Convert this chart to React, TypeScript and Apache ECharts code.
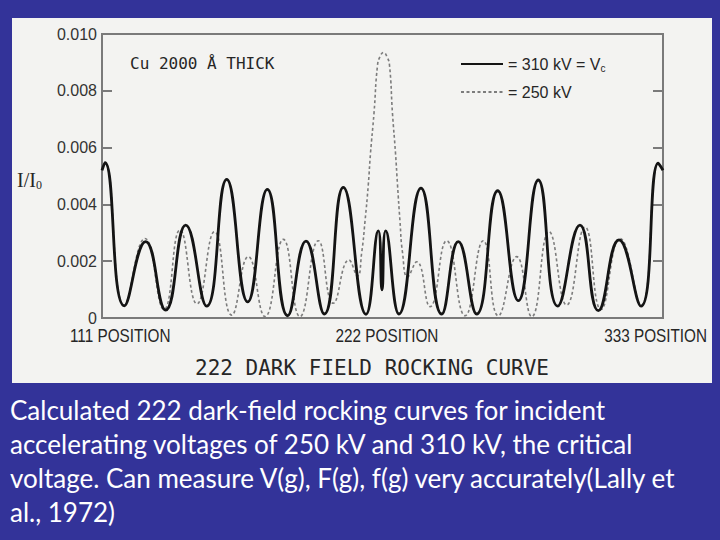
import React, { useEffect, useRef } from "react";
import * as echarts from "echarts";

// x: rocking position, 0 = 111 position, 50 = 222 position, 100 = 333 position
const solidX = [0, 0.53, 3.98, 7.79, 11.35, 14.92, 18.66, 22.23, 25.97, 29.47, 33.1, 36.36, 39.63, 43.01, 47.06, 49.25, 49.91, 50.57, 52.94, 56.86, 60.55, 63.51, 66.79, 70.53, 74.21, 77.77, 81.23, 85.2, 88.47, 92.16, 96.08, 99.16, 100];
const solidY = [0.0052, 0.00547, 0.00043, 0.00269, 0.00028, 0.00327, 0.00042, 0.00488, 0.00057, 0.00453, 0.00008, 0.00271, 0.00014, 0.0046, 0.00013, 0.00307, 0.00099, 0.00307, 0.00014, 0.00457, 0.00014, 0.00269, 0.00014, 0.00448, 0.00061, 0.00486, 0.00042, 0.00327, 0.00026, 0.00275, 0.00042, 0.00545, 0.0052];

const dashedX = [0, 0.53, 3.98, 7.66, 11.05, 13.9, 16.93, 20.05, 23.12, 26.08, 29.06, 32.32, 35.29, 38.56, 41.23, 44.03, 45.54, 46.29, 46.88, 47.47, 47.86, 48.48, 49.11, 49.55, 50.18, 50.8, 51.25, 51.78, 52.32, 52.67, 53.12, 53.57, 54.46, 56.1, 58.47, 61.44, 64.71, 67.97, 70.64, 73.92, 76.6, 79.68, 82.83, 86.1, 88.95, 92.34, 96.08, 99.16, 100];
const dashedY = [0.0052, 0.00547, 0.00045, 0.0028, 0.0003, 0.0031, 0.0005, 0.00304, 0.0001, 0.00216, 0.00005, 0.00277, 0.00005, 0.00272, 0.00052, 0.00204, 0.00148, 0.0023, 0.0034, 0.0047, 0.0058, 0.0072, 0.0089, 0.0092, 0.00935, 0.0092, 0.0089, 0.0072, 0.0058, 0.0047, 0.0034, 0.0023, 0.00145, 0.00198, 0.0004, 0.00272, 0.00008, 0.00272, 0.00008, 0.00216, 0.00005, 0.00304, 0.00046, 0.0032, 0.0003, 0.0028, 0.00045, 0.00545, 0.0052];

const seriesNames = ["310 kV", "250 kV"];
const positionLabels = ["111 POSITION", "222 POSITION", "333 POSITION"];
const chartTitle = "222 DARK FIELD ROCKING CURVE";
const sampleNote = "Cu 2000 Å THICK";
const captionLines = [
  "Calculated 222 dark-field rocking curves for incident",
  "accelerating voltages of 250 kV and 310 kV, the critical",
  "voltage. Can measure V(g), F(g), f(g) very accurately(Lally et",
  "al., 1972)",
];

const zip = (xs: number[], ys: number[]) => xs.map((x, i) => [x, ys[i]]);

const SANS = "'Liberation Sans', Arial, sans-serif";
const MONO = "'DejaVu Sans Mono', 'Liberation Mono', monospace";
const INK = "#262626";

export default function App() {
  const ref = useRef<HTMLDivElement>(null);
  useEffect(() => {
    const chart = echarts.init(ref.current!, null, { renderer: "svg" });
    const tickColor = "#7a7a7a";
    const posText = (text: string, x: number, align: string) => ({
      type: "text",
      x,
      y: 336,
      scaleX: 0.85,
      style: { text, fontFamily: SANS, fontSize: 18, fill: INK, verticalAlign: "middle", align },
    });
    chart.setOption({
      animation: false,
      backgroundColor: "#333399",
      grid: {
        left: 102,
        right: 57,
        top: 34,
        bottom: 222,
        show: true,
        borderColor: tickColor,
        borderWidth: 2,
        backgroundColor: "transparent",
      },
      legend: {
        orient: "vertical",
        left: 460,
        top: 56,
        padding: 0,
        itemWidth: 42,
        itemHeight: 14,
        itemGap: 11,
        data: seriesNames,
        itemStyle: { opacity: 0 },
        formatter: (name: string) => (name === "310 kV" ? "= 310 kV = V{s|c}" : "= 250 kV"),
        textStyle: {
          fontFamily: SANS,
          fontSize: 16,
          color: INK,
          rich: { s: { fontFamily: SANS, fontSize: 10, color: INK, padding: [8, 0, 0, 0] } },
        },
      },
      xAxis: {
        type: "value",
        min: 0,
        max: 100,
        interval: 50,
        axisLine: { show: false },
        axisTick: { show: false },
        axisLabel: { show: false },
        splitLine: { show: false },
      },
      yAxis: [
        {
          type: "value",
          min: 0,
          max: 0.01,
          interval: 0.002,
          position: "left",
          axisLine: { show: false },
          axisTick: { show: true, inside: true, length: 10, lineStyle: { color: tickColor, width: 2 } },
          axisLabel: {
            margin: 5,
            fontFamily: SANS,
            fontSize: 16,
            color: "#333",
            formatter: (v: number) => (v === 0 ? "0" : v.toFixed(3)),
          },
          splitLine: { show: false },
        },
        {
          type: "value",
          min: 0,
          max: 0.01,
          interval: 0.002,
          position: "right",
          axisLine: { show: false },
          axisTick: { show: true, inside: true, length: 10, lineStyle: { color: tickColor, width: 2 } },
          axisLabel: { show: false },
          splitLine: { show: false },
        },
      ],
      series: [
        {
          name: seriesNames[0],
          type: "line",
          data: zip(solidX, solidY),
          smooth: 0.5,
          symbol: "none",
          z: 3,
          itemStyle: { color: "#141414" },
          lineStyle: { color: "#141414", width: 2.8 },
        },
        {
          name: seriesNames[1],
          type: "line",
          data: zip(dashedX, dashedY),
          smooth: 0.5,
          symbol: "none",
          z: 2,
          itemStyle: { color: "#7c7c7c" },
          lineStyle: { color: "#7c7c7c", width: 1.6, type: [3, 2.5] },
        },
      ],
      graphic: [
        {
          type: "rect",
          z: -10,
          silent: true,
          shape: { x: 12, y: 18, width: 700, height: 365 },
          style: { fill: "#f3f3f1" },
        },
        {
          type: "text",
          x: 17,
          y: 180,
          style: {
            text: "I/I{s|0}",
            fontFamily: "'Liberation Serif', serif",
            fontSize: 20,
            fill: INK,
            verticalAlign: "middle",
            rich: { s: { fontFamily: "'Liberation Serif', serif", fontSize: 12, fill: INK, padding: [10, 0, 0, 0] } },
          },
        },
        {
          type: "text",
          x: 130,
          y: 63,
          style: { text: sampleNote, fontFamily: MONO, fontSize: 16, fill: INK, verticalAlign: "middle" },
        },
        posText(positionLabels[0], 70, "left"),
        posText(positionLabels[1], 387, "center"),
        posText(positionLabels[2], 707, "right"),
        {
          type: "text",
          x: 195,
          y: 368,
          style: { text: chartTitle, fontFamily: MONO, fontSize: 21, fill: INK, verticalAlign: "middle" },
        },
        ...captionLines.map((line, i) => ({
          type: "text",
          x: 10,
          y: 410 + 34 * i,
          style: { text: line, fontFamily: "Lato, 'Open Sans', sans-serif", fontSize: 26, fill: "#ffffff", verticalAlign: "middle" },
        })),
      ],
    });
    return () => chart.dispose();
  }, []);
  return <div ref={ref} style={{ position: "fixed", left: 0, top: 0, width: 720, height: 540 }} />;
}
